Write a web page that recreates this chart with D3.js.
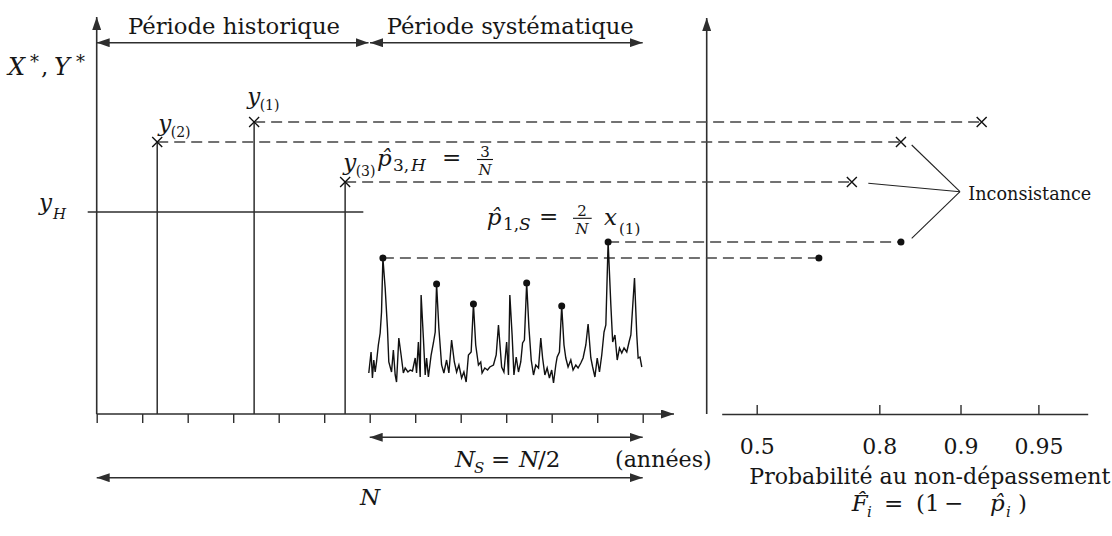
<!DOCTYPE html>
<html><head><meta charset="utf-8">
<script src="https://cdn.jsdelivr.net/npm/d3@7"></script>
<style>
body{margin:0;background:#fff;}
svg{display:block;}
</style>
</head><body>
<svg id="c" width="1112" height="536"></svg>
<script>
// ---------------- data ----------------
const yearTicks = [0,10,20,30,40,50,60,70,80,90,100,110,120];
const histPeriod = [0, 60];
const sysPeriod = [60, 120];
const histLabels = ["(1)", "(2)", "(3)"];
const histT = [34.6, 13.3, 54.6];
const histV = [292, 272, 232];
const histF = [0.917, 0.833, 0.75];
const yH = 202;
const sysT = [59.8,60.3,60.6,60.9,61.2,61.5,61.9,62.3,62.6,62.9,
  63.4,63.9,64.2,64.8,65.2,65.6,65.9,66.4,66.9,67.4,
  67.8,68.4,68.9,69.4,70.0,70.3,70.7,71.1,71.3,71.8,
  72.2,72.5,72.9,73.5,74.0,74.4,74.7,75.2,75.8,76.3,
  76.9,77.4,78.0,78.6,79.1,79.6,80.2,80.7,81.2,81.7,
  82.3,82.8,83.3,83.9,84.4,84.7,85.3,85.9,86.4,87.2,
  87.8,88.3,89.0,89.5,90.1,90.5,90.8,91.3,91.7,92.2,
  92.7,93.2,93.6,94.0,94.5,95.0,95.5,96.0,96.5,97.1,
  97.6,98.0,98.5,99.0,99.5,100.0,100.4,100.9,101.2,101.7,
  102.2,102.7,103.1,103.6,104.2,104.7,105.3,105.8,106.4,106.9,
  107.5,108.0,108.6,109.0,109.5,110.0,110.5,111.0,111.5,111.9,
  112.4,113.0,113.4,113.9,114.4,114.9,115.4,115.9,116.5,117.0,
  117.4,118.2,118.7,119.0,119.4,119.8];
const sysV = [41,62,36,54,42,52,69,81,102,156,
  126,86,52,42,64,39,32,76,59,41,
  46,42,44,43,56,41,72,37,119,76,
  39,56,37,59,71,82,130,86,49,41,
  54,41,74,52,42,49,36,42,32,59,
  62,110,69,49,52,41,46,44,47,49,
  59,89,47,42,72,39,119,79,39,57,
  42,52,71,74,131,86,54,39,49,46,
  76,56,39,46,36,44,31,49,57,62,
  108,69,56,47,54,44,49,46,51,56,
  69,90,56,47,37,56,42,59,82,89,
  172,109,72,79,54,66,61,66,62,72,
  79,136,79,56,57,47];
const sysPeakT = [62.9, 74.7, 82.8, 94.5, 102.2, 112.4];
const sysRankT = [112.4, 62.9];     // x(1), x(2)
const sysRankF = [0.833, 0.677];
const probTicks = [0.5, 0.8, 0.9, 0.95];

// ---------------- scales ----------------
const FONT = "'DejaVu Serif', 'Liberation Serif', serif";
const ink = "#2e2e2e";
const txtCol = "#161616";
const xT = d3.scaleLinear().domain([0,120]).range([96.7,642.7]);
const yV = d3.scaleLinear().domain([0,400]).range([414,14]);
const gumbel = F => -Math.log(-Math.log(F));
const xU = d3.scaleLinear().domain([0.043,3.426]).range([721.7,1087.7]);
const xF = F => xU(gumbel(F));
const rightAxisX = 706.7;

const svg = d3.select("#c");
const defs = svg.append("defs");
defs.append("marker").attr("id","ah").attr("viewBox","0 0 13 9")
  .attr("refX",13).attr("refY",4.5).attr("markerWidth",13).attr("markerHeight",9)
  .attr("markerUnits","userSpaceOnUse").attr("orient","auto-start-reverse")
  .append("path").attr("d","M0,0L13,4.5L0,9Z").attr("fill",ink);

function L(x1,y1,x2,y2,w,o={}){
  const l = svg.append("line").attr("x1",x1).attr("y1",y1).attr("x2",x2).attr("y2",y2)
    .attr("stroke",o.color||ink).attr("stroke-width",w);
  if(o.dash) l.attr("stroke-dasharray",o.dash);
  if(o.end) l.attr("marker-end","url(#ah)");
  if(o.start) l.attr("marker-start","url(#ah)");
  return l;
}
function T(x,y,s,o={}){
  const t = svg.append("text").attr("x",x).attr("y",y).text(s)
    .attr("font-family",FONT).attr("fill",txtCol)
    .attr("font-size",(o.size||22)+"px");
  if(o.it) t.attr("font-style","italic");
  if(o.anchor) t.attr("text-anchor",o.anchor);
  if(o.len) t.attr("textLength",o.len).attr("lengthAdjust","spacingAndGlyphs");
  return t;
}
// math label: one text element, several positioned tspans [x, y, str, size, italic, anchor]
function M(parts){
  const t = svg.append("text").attr("font-family",FONT).attr("fill",txtCol);
  parts.forEach(p=>{
    const s = t.append("tspan").attr("x",p[0]).attr("y",p[1]).text(p[2])
      .attr("font-size",(p[3]||23)+"px");
    if(p[4]) s.attr("font-style","italic");
    if(p[5]) s.attr("text-anchor",p[5]);
  });
  return t;
}

// ---------------- axes ----------------
const y0 = yV(0);
L(xT(0), y0, xT(0), 17, 1.6, {end:true});
L(xT(0), y0, 674, y0, 1.6, {end:true});
const gx = svg.append("g").attr("transform",`translate(0,${y0})`)
  .call(d3.axisBottom(xT).tickValues(yearTicks).tickSize(9).tickFormat(""));
gx.select(".domain").remove();
gx.selectAll(".tick line").attr("stroke",ink).attr("stroke-width",1.4);

L(rightAxisX, y0, rightAxisX, 18, 1.6, {end:true});
const gp = svg.append("g").attr("transform",`translate(0,${y0})`)
  .call(d3.axisBottom(xU).tickValues(probTicks.map(gumbel)).tickSize(-9).tickSizeOuter(0)
    .tickPadding(24).tickFormat((d,i)=>String(probTicks[i])));
gp.attr("font-family",FONT).attr("font-size",22);
gp.select(".domain").attr("stroke",ink).attr("stroke-width",1.6);
gp.selectAll(".tick line").attr("stroke",ink).attr("stroke-width",1.4);
gp.selectAll(".tick text").attr("fill",txtCol);

// ---------------- period arrows ----------------
L(xT(histPeriod[0]), 42.7, xT(histPeriod[1])-1.2, 42.7, 1.4, {start:true,end:true});
L(xT(sysPeriod[0])+0.3, 42.7, xT(sysPeriod[1]), 42.7, 1.4, {start:true,end:true});
T(128, 34, "Période historique", {len:212});
T(386.7, 34, "Période systématique", {len:247});

L(xT(sysPeriod[0]), 437.3, xT(sysPeriod[1]), 437.3, 1.4, {start:true,end:true});
L(xT(0), 477.7, xT(120), 477.7, 1.4, {start:true,end:true});

// ---------------- y_H threshold ----------------
L(87.7, yV(yH), xT(58.6), yV(yH), 1.3);

// ---------------- dashed projections ----------------
const dash = "11,6";
histT.forEach((t,i)=>{
  L(xT(t), yV(histV[i]), xF(histF[i]), yV(histV[i]), 1.5, {dash, color:"#444"});
});
const sysLookup = t => sysV[sysT.indexOf(t)];
sysRankT.forEach((t,i)=>{
  L(xT(t), yV(sysLookup(t)), xF(sysRankF[i]), yV(sysLookup(t)), 1.5, {dash, color:"#444"});
});

// ---------------- historical stems + crosses ----------------
const cross = "M-5,-5L5,5M-5,5L5,-5";
histT.forEach((t,i)=>{
  L(xT(t), y0, xT(t), yV(histV[i]), 1.5);
  svg.append("path").attr("d",cross).attr("transform",`translate(${xT(t)},${yV(histV[i])})`)
    .attr("stroke","#111").attr("stroke-width",1.4).attr("fill","none");
  svg.append("path").attr("d",cross).attr("transform",`translate(${xF(histF[i])},${yV(histV[i])})`)
    .attr("stroke","#111").attr("stroke-width",1.4).attr("fill","none");
});

// ---------------- systematic series ----------------
const series = sysT.map((t,i)=>[t, sysV[i]]);
svg.append("path").datum(series)
  .attr("d", d3.line().x(d=>xT(d[0])).y(d=>yV(d[1])))
  .attr("fill","none").attr("stroke","#111").attr("stroke-width",1.4).attr("stroke-linejoin","miter");
sysPeakT.forEach(t=>{
  svg.append("circle").attr("cx",xT(t)).attr("cy",yV(sysLookup(t))).attr("r",3.5).attr("fill","#111");
});
sysRankT.forEach((t,i)=>{
  svg.append("circle").attr("cx",xF(sysRankF[i])).attr("cy",yV(sysLookup(t))).attr("r",3.5).attr("fill","#111");
});

// ---------------- Inconsistance ----------------
const apex = [960, 191.7];
[[911.7,145],[868.3,183.3],[911.7,238.3]].forEach(p=>L(p[0],p[1],apex[0],apex[1],1.1,{color:"#222"}));
T(968.3, 200, "Inconsistance", {size:18, len:123});

// ---------------- math labels ----------------
M([[8,75,"X",24,1],[30,68,"*",18],[41,75,",",23],[54,75,"Y",24,1],[76,68,"*",18]]);
const labOff = [[-7,-18],[1,-11],[-2,-12]];
histT.forEach((t,i)=>{
  const x = xT(t)+labOff[i][0], y = yV(histV[i])+labOff[i][1];
  M([[x,y,"y",23,1],[x+12.5,y+6,histLabels[i],14]]);
});
M([[39,210,"y",23,1],[53,219,"H",15,1]]);
// p̂_{3,H} = 3/N
M([[377,166,"p\u0302",23,1],[393,171,"3,",17],[411,171,"H",17,1],[442,165,"=",23],
   [485,157,"3",15,0,"middle"],[485,174.5,"N",15,1,"middle"]]);
L(477, 159.5, 493, 159.5, 1.1, {color:"#111"});
// p̂_{1,S} = 2/N  x_(1)
M([[486.7,225,"p\u0302",23,1],[503,230,"1,",17],[519,230,"S",17,1],[539,224,"=",23],
   [582,216,"2",15,0,"middle"],[582,233.5,"N",15,1,"middle"]]);
L(573, 218.3, 591.7, 218.3, 1.1, {color:"#111"});
M([[604,225,"x",23,1],[619,234,"(1)",15]]);

// bottom labels
M([[455,467,"N",23,1],[474,473,"S",15,1],[491,467,"=",23],[519,467,"N",23,1],[538,467,"/2",23]]);
T(615, 467, "(années)", {len:96.7});
T(360, 505, "N", {size:23, it:true});

T(749.3, 484, "Probabilité au non-dépassement", {len:361});
M([[851.7,511,"F\u0302",23,1],[867,517,"i",15,1],[884,511,"=",23],[916,511,"(1",23],[944,511,"\u2212",23],[990,511,"p\u0302",23,1],[1006,517,"i",15,1],[1018,511,")",23]]);
</script>
</body></html>
